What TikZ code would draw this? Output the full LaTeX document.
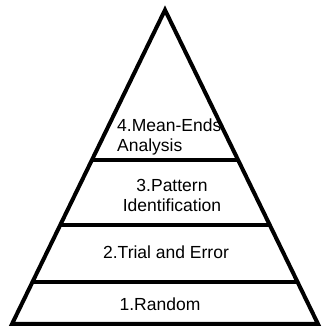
\documentclass[tikz,border=0pt]{standalone}
\usepackage{fontspec}
\setmainfont{Liberation Sans}
\usetikzlibrary{calc}
\begin{document}
\begin{tikzpicture}[x=1pt,y=1pt,
  edge/.style={line width=4pt,line join=miter,miter limit=20},
  divider/.style={line width=3.5pt},
  lbl/.style={inner sep=0pt,font=\fontsize{17.5}{20}\selectfont}]
\useasboundingbox (0,0) rectangle (321,328);
\coordinate (A) at (165,318);
\coordinate (L) at (12,4);
\coordinate (R) at (318,4);
\draw[edge] (L) -- (A) -- (R) -- cycle;
% dividers
\coordinate (l1) at ($(A)!0.4777!(L)$);
\coordinate (r1) at ($(A)!0.4777!(R)$);
\coordinate (l2) at ($(A)!0.6847!(L)$);
\coordinate (r2) at ($(A)!0.6847!(R)$);
\coordinate (l3) at ($(A)!0.8662!(L)$);
\coordinate (r3) at ($(A)!0.8662!(R)$);
\draw[divider] (l1) -- (r1);
\draw[divider] (l2) -- (r2);
\draw[divider] (l3) -- (r3);
% labels
\node[lbl,align=left,anchor=west] (t4) at (117,191) {4.Mean-Ends\\Analysis};
\node[lbl,align=center] (t3) at (172,133) {3.Pattern\\Identification};
\node[lbl,anchor=base] (t2) at (166,69) {2.Trial and Error};
\node[lbl,anchor=base] (t1) at (160,17) {1.Random};
\end{tikzpicture}
\end{document}
